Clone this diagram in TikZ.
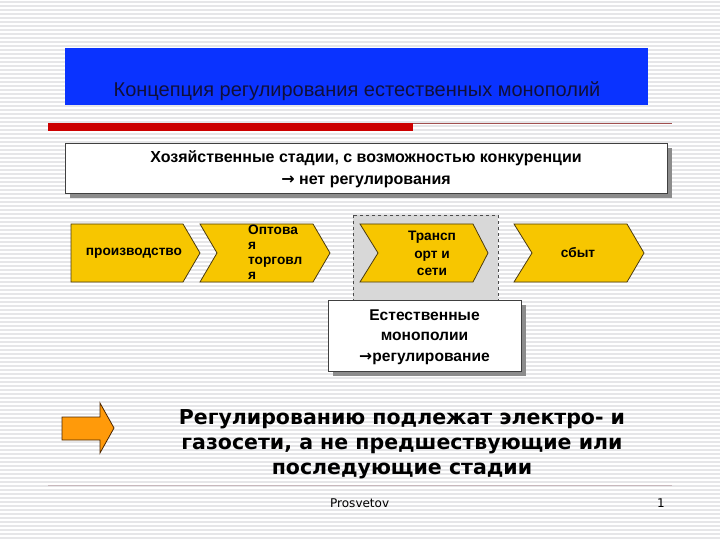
\documentclass[tikz,border=0pt]{standalone}
\usepackage{fontspec}
\setmainfont{Liberation Sans}
\newfontfamily\footfont{DejaVu Sans}
\newcommand{\rarr}{{\footfont\bfseries →}}
\definecolor{stripe}{HTML}{E6E6E8}
\definecolor{titleblue}{HTML}{0A33FF}
\definecolor{titletext}{HTML}{10103A}
\definecolor{redbar}{HTML}{CC0000}
\definecolor{redline}{HTML}{A05050}
\definecolor{chev}{HTML}{F7C600}
\definecolor{chevline}{HTML}{4A3A10}
\definecolor{monogray}{HTML}{D8D8D8}
\definecolor{shadowgray}{HTML}{8C8C8C}
\definecolor{orangearrow}{HTML}{FF9A0A}
\definecolor{footline}{HTML}{C8B8BC}
\tikzset{
  chevron/.style={fill=chev,draw=chevline,line width=0.8pt,line join=miter},
  chevtext/.style={font=\bfseries\fontsize{13.7}{15}\selectfont,text=black,inner sep=0pt},
  whitebox/.style={fill=white,draw=black!75,line width=0.8pt},
  shadowbox/.style={fill=shadowgray,draw=none},
}
\begin{document}
\begin{tikzpicture}[x=1pt,y=-1pt]
\useasboundingbox (0,0) rectangle (720,540);
% background stripes
\fill[white] (0,0) rectangle (720,540);
\foreach \k in {0,...,134} {
  \fill[stripe] (0,{4*\k+1}) rectangle (720,{4*\k+3});
}
% title
\fill[titleblue] (65,48) rectangle (648,105);
\node[text=titletext,font=\fontsize{20}{24}\selectfont,inner sep=0pt] (title) at (357,91) {Концепция регулирования естественных монополий};
% red bar and line
\fill[redbar] (48,123) rectangle (413,131);
\draw[redline,line width=1pt] (413,123.5) -- (672,123.5);
% top box
\fill[shadowgray] (70,148) rectangle (672,198);
\draw[whitebox] (65,143) rectangle (667,193);
\node[font=\bfseries\fontsize{16}{22}\selectfont,align=center,inner sep=0pt] (stages) at (366,169)
  {Хозяйственные стадии, с возможностью конкуренции\\\rarr\ нет регулирования};
% dashed monopoly area
\draw[fill=monogray,draw=black!70,dashed,line width=0.8pt] (353,215) rectangle (498,372);
% chevrons
\draw[chevron] (71,224) -- (183,224) -- (200,253) -- (183,282) -- (71,282) -- cycle;
\node[chevtext] (prod) at (134,253) {производство};
\draw[chevron] (200,224) -- (313,224) -- (330,253) -- (313,282) -- (200,282) -- (217,253) -- cycle;
\node[chevtext,align=left,anchor=west] (whole) at (248,252) {Оптова\\я\\торговл\\я};
\draw[chevron] (360,224) -- (473,224) -- (488,253) -- (473,282) -- (360,282) -- (378,253) -- cycle;
\node[chevtext,align=center,font=\bfseries\fontsize{13.7}{17.5}\selectfont] (trans) at (432,253.5) {Трансп\\орт и\\сети};
\draw[chevron] (514,224) -- (627,224) -- (644,253) -- (627,282) -- (514,282) -- (532,253) -- cycle;
\node[chevtext] (sales) at (578,253) {сбыт};
% monopoly box
\fill[shadowgray] (333,305) rectangle (526,376);
\draw[whitebox] (328,300) rectangle (521,371);
\node[font=\bfseries\fontsize{15.6}{20.5}\selectfont,align=center,inner sep=0pt] (mono) at (424.5,337)
  {Естественные\\монополии\\\rarr регулирование};
% orange arrow
\draw[fill=orangearrow,draw=black!70!orange,line width=0.8pt,line join=miter]
  (62,417) -- (100,417) -- (100,403) -- (114,428) -- (100,453) -- (100,440) -- (62,440) -- cycle;
\node[font=\footfont\bfseries\fontsize{20.5}{25}\selectfont,align=center,inner sep=0pt] (main) at (402,444)
  {Регулированию подлежат электро- и\\газосети, а не предшествующие или\\последующие стадии};
% footer
\draw[footline,line width=1pt] (48,485.5) -- (672,485.5);
\node[font=\footfont\fontsize{12}{14}\selectfont,anchor=west,inner sep=0pt] (author) at (330,503) {Prosvetov};
\node[font=\footfont\fontsize{12}{14}\selectfont,inner sep=0pt] (page) at (661,503) {1};
\end{tikzpicture}
\end{document}
